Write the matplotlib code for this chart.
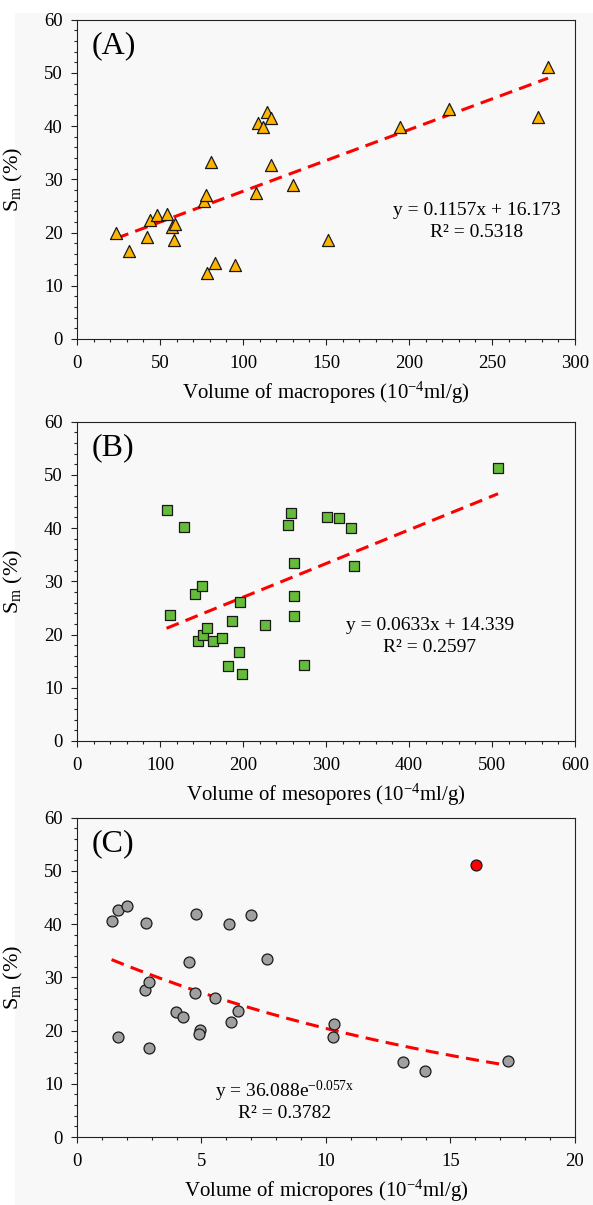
import matplotlib
matplotlib.use('Agg')
import matplotlib.pyplot as plt
from matplotlib.patches import Rectangle
from matplotlib.ticker import MultipleLocator
import numpy as np

plt.rcParams['font.family'] = ['Liberation Serif', 'DejaVu Serif']
plt.rcParams['mathtext.fontset'] = 'custom'
plt.rcParams['mathtext.rm'] = 'Liberation Serif'
plt.rcParams['mathtext.it'] = 'Liberation Serif:italic'

# ---- data ----
macro_x = [23.5, 31.5, 42.3, 44.1, 48.0, 54.4, 57.1, 59.0, 58.5, 76.5, 77.7, 78.4, 80.6, 83.4,
           95.0, 108.0, 109.2, 112.0, 114.5, 117.0, 117.0, 130.0, 151.5, 194.7, 224.4, 277.6, 283.8]
macro_y = [19.9, 16.6, 19.25, 22.4, 23.3, 23.4, 21.1, 21.6, 18.6, 25.9, 27.1, 12.4, 33.3, 14.25,
           13.9, 27.4, 40.5, 39.9, 42.6, 41.6, 32.7, 28.9, 18.6, 39.9, 43.2, 41.75, 51.1]

meso_x = [107.9, 128.9, 111.5, 142.6, 150.4, 145.3, 151.7, 156.8, 164.1, 174.6, 181.9, 186.9, 194.7, 197.0,
          198.4, 226.2, 254.6, 257.3, 261.0, 261.0, 261.0, 273.3, 301.2, 315.4, 330.4, 334.1, 507.3]
meso_y = [43.4, 40.2, 23.7, 27.6, 29.1, 18.85, 20.0, 21.3, 18.8, 19.35, 14.1, 22.5, 16.8, 26.2,
          12.6, 21.7, 40.6, 42.8, 33.4, 27.2, 23.4, 14.3, 42.0, 41.8, 40.1, 32.8, 51.2]

micro_x = [1.39, 1.66, 2.01, 2.76, 1.63, 2.89, 2.74, 2.89, 3.96, 4.27, 4.51, 4.77, 4.75, 4.95,
           4.89, 5.53, 6.09, 6.18, 6.47, 6.98, 7.65, 10.28, 10.33, 13.10, 13.98, 17.32]
micro_y = [40.6, 42.75, 43.4, 40.25, 18.75, 16.8, 27.6, 29.1, 23.5, 22.5, 32.8, 42.0, 27.1, 20.1,
           19.3, 26.2, 40.1, 21.7, 23.6, 41.8, 33.4, 18.75, 21.3, 14.06, 12.5, 14.25]
outlier_x = [16.02]
outlier_y = [51.2]

# trend line coefficients (as printed on the chart)
fit_a = (0.1157, 16.173)
fit_b = (0.0633, 14.339)
fit_c = (36.088, -0.057)

eq_a = ['y = 0.1157x + 16.173', 'R\u00b2 = 0.5318']
eq_b = ['y = 0.0633x + 14.339', 'R\u00b2 = 0.2597']
eq_c = [r'y = 36.088e$^{\mathregular{-0.057x}}$', 'R\u00b2 = 0.3782']

BG = '#f8f8f8'
SPINE = '#222222'

fig = plt.figure(figsize=(5.93, 12.05), dpi=100)
fig.patch.set_facecolor('white')
fig.add_artist(Rectangle((15 / 593, 0), 1, 1 - 13 / 1205, transform=fig.transFigure,
                         facecolor=BG, edgecolor='none', zorder=-10))

left, width, height = 0.1298, 0.8398, 0.2650
ax_a = fig.add_axes([left, 0.7187, width, height])
ax_b = fig.add_axes([left, 0.3851, width, height])
ax_c = fig.add_axes([left, 0.0564, width, height])


def style_axis(ax, xmax, xmajor, xminor, xlabel, letter):
    ax.set_facecolor(BG)
    ax.set_xlim(0, xmax)
    ax.set_ylim(0, 60)
    ax.xaxis.set_major_locator(MultipleLocator(xmajor))
    ax.xaxis.set_minor_locator(MultipleLocator(xminor))
    ax.yaxis.set_major_locator(MultipleLocator(10))
    ax.yaxis.set_minor_locator(MultipleLocator(2))
    ax.tick_params(which='both', direction='out', color=SPINE, width=0.8,
                   labelsize=13.5, top=False, right=False)
    ax.tick_params(which='major', length=4.3)
    ax.tick_params(which='minor', length=2.2)
    ax.tick_params(axis='x', which='major', pad=7)
    ax.tick_params(axis='y', which='major', pad=6)
    for s in ax.spines.values():
        s.set_color(SPINE)
        s.set_linewidth(0.8)
    ax.set_xlabel(xlabel, fontsize=15, labelpad=6)
    ax.set_ylabel(r'S$_{\mathregular{m}}$ (%)', fontsize=16)
    ax.yaxis.set_label_coords(-0.104, 0.5)
    ax.text(0.03, 0.917, letter, transform=ax.transAxes, fontsize=23, va='center', ha='left')


def trend(ax, x0, x1, f):
    xs = np.linspace(x0, x1, 200)
    ax.plot(xs, f(xs), color='#ff0000', lw=2.2, dashes=(4.3, 2.4), zorder=2)


# (A) macropores
style_axis(ax_a, 300, 50, 10, r'Volume of macropores (10$^{\mathregular{-4}}$ml/g)', '(A)')
trend(ax_a, min(macro_x), max(macro_x), lambda x: fit_a[0] * x + fit_a[1])
ax_a.scatter(macro_x, macro_y, marker='^', s=75, c='#ffb400', edgecolors='#1a1a1a',
             linewidths=0.9, zorder=3)
ax_a.text(241, 23.3, eq_a[0], ha='center', va='baseline', fontsize=14)
ax_a.text(241, 19.2, eq_a[1], ha='center', va='baseline', fontsize=14)

# (B) mesopores
style_axis(ax_b, 600, 100, 20, r'Volume of mesopores (10$^{\mathregular{-4}}$ml/g)', '(B)')
trend(ax_b, min(meso_x), max(meso_x), lambda x: fit_b[0] * x + fit_b[1])
ax_b.scatter(meso_x, meso_y, marker='s', s=62, c='#66bb3a', edgecolors='#1a1a1a',
             linewidths=0.9, zorder=3)
ax_b.text(425, 20.8, eq_b[0], ha='center', va='baseline', fontsize=14)
ax_b.text(425, 16.7, eq_b[1], ha='center', va='baseline', fontsize=14)

# (C) micropores
style_axis(ax_c, 20, 5, 1, r'Volume of micropores (10$^{\mathregular{-4}}$ml/g)', '(C)')
trend(ax_c, min(micro_x), max(micro_x), lambda x: fit_c[0] * np.exp(fit_c[1] * x))
ax_c.scatter(micro_x, micro_y, marker='o', s=62, c='#a0a0a0', edgecolors='#1a1a1a',
             linewidths=0.9, zorder=3)
ax_c.scatter(outlier_x, outlier_y, marker='o', s=62, c='#ff0000', edgecolors='#1a1a1a',
             linewidths=0.9, zorder=3)
ax_c.text(8.35, 7.5, eq_c[0], ha='center', va='baseline', fontsize=14)
ax_c.text(8.35, 3.6, eq_c[1], ha='center', va='baseline', fontsize=14)

fig.savefig('out.png', dpi=100, facecolor=fig.get_facecolor())
